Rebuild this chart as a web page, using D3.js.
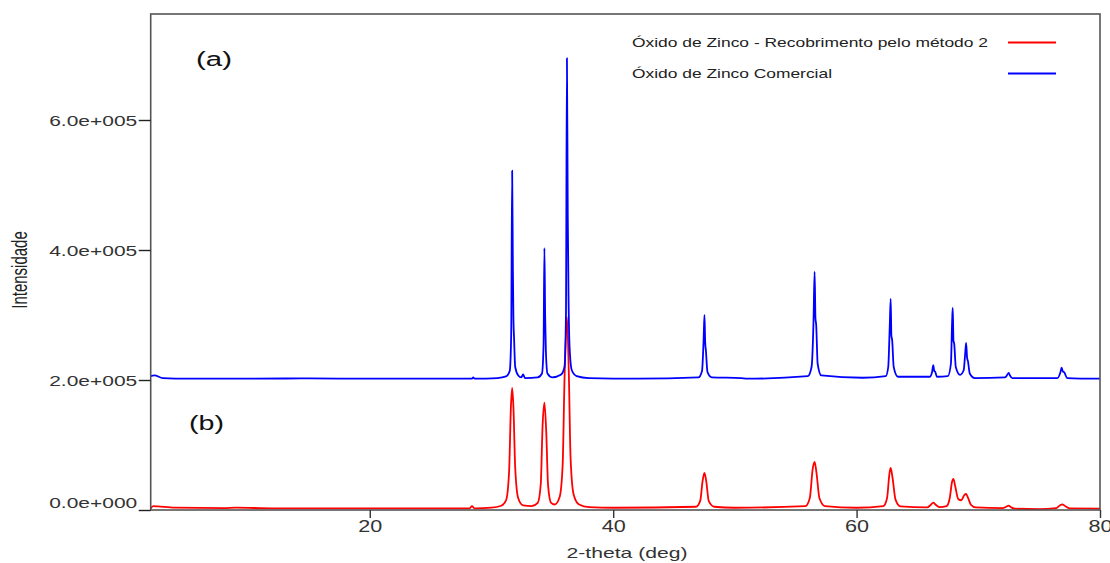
<!DOCTYPE html>
<html>
<head>
<meta charset="utf-8">
<script src="https://cdn.jsdelivr.net/npm/d3@7"></script>
<style>
  html, body { margin: 0; padding: 0; background: #fff; }
  svg { display: block; }
  text { font-family: "Liberation Sans", Arial, sans-serif; }
</style>
</head>
<body>
<svg id="chart" width="1110" height="563"></svg>
<script>
// ---------- DATA ----------
const xTicks = [20, 40, 60, 80];
const xTickLabels = ["20", "40", "60", "80"];
const yTicks = [0, 200000, 400000, 600000];
const yTickLabels = ["0.0e+000", "2.0e+005", "4.0e+005", "6.0e+005"];
const seriesNames = ["Óxido de Zinco - Recobrimento pelo método 2", "Óxido de Zinco Comercial"];
const panelLabels = ["(a)", "(b)"];
const xTitle = "2-theta (deg)";
const yTitle = "Intensidade";

// (b) red: ZnO coating, method 2  — [2theta, intensity]
const redSeries = [
  [2.0, 2500], [2.2, 6000], [2.6, 5500], [4, 3500], [8, 3000], [9, 3600], [12, 2600], [20, 2500],
  [28.2, 2600], [28.4, 6000], [28.6, 2600], [30.0, 3500], [30.8, 6500], [31.2, 15000],
  [31.45, 60000], [31.6, 160000], [31.7, 188000], [31.8, 160000], [31.95, 65000], [32.2, 18000],
  [32.6, 7000], [33.3, 6000], [33.8, 11000], [34.05, 40000], [34.2, 130000], [34.35, 165000],
  [34.5, 120000], [34.65, 38000], [34.9, 11000], [35.2, 8500], [35.6, 20000], [35.85, 70000],
  [36.0, 200000], [36.2, 297000], [36.35, 215000], [36.5, 80000], [36.75, 24000], [37.2, 8500],
  [38, 4500], [40, 3500], [46.8, 5000], [47.15, 14000], [47.35, 45000], [47.5, 57000],
  [47.65, 44000], [47.85, 14000], [48.3, 5000], [50, 3500], [55.8, 6000], [56.15, 18000],
  [56.4, 64000], [56.55, 74000], [56.7, 58000], [56.95, 18000], [57.4, 6000], [60, 3500],
  [62.2, 6000], [62.5, 18000], [62.7, 56000], [62.8, 64600], [62.95, 50000], [63.2, 16000],
  [63.6, 5500], [65.8, 4000], [66.1, 8000], [66.3, 11200], [66.5, 8000], [66.8, 4500],
  [67.4, 6000], [67.65, 18000], [67.85, 44000], [67.95, 47700], [68.1, 37000], [68.35, 17000],
  [68.6, 15000], [68.85, 23000], [69.0, 24600], [69.15, 19000], [69.4, 8000], [69.8, 4000],
  [72.0, 3000], [72.3, 5000], [72.5, 6600], [72.7, 4000], [73, 2000], [75, 1500],
  [76.4, 3000], [76.7, 7000], [76.9, 8800], [77.1, 6500], [77.5, 2500], [80, 2200]
];

// (a) blue: commercial ZnO (plotted with offset baseline ~2.0e5)
const blueSeries = [
  [2.0, 206000], [2.3, 207000], [3, 203000], [5, 202000], [10, 202000], [15, 202500], [20, 202000],
  [25, 202000], [28.4, 202000], [28.5, 204000], [28.6, 202000], [30.5, 203000], [31.2, 205500],
  [31.5, 214000], [31.62, 270000], [31.7, 522000], [31.76, 370000], [31.8, 300000],
  [31.86, 262000], [31.95, 220000], [32.2, 207000], [32.45, 204000], [32.6, 208500], [32.75, 203000],
  [33.8, 204000], [34.15, 210000], [34.28, 255000], [34.35, 403000], [34.41, 300000],
  [34.47, 245000], [34.6, 210000], [35.0, 204000], [35.7, 208000], [36.0, 220000],
  [36.12, 300000], [36.2, 695000], [36.27, 450000], [36.33, 330000], [36.42, 250000],
  [36.6, 215000], [37, 206000], [38, 203000], [42, 202000], [47.0, 204000], [47.3, 214000],
  [47.43, 262000], [47.5, 300000], [47.56, 258000], [47.62, 245000], [47.75, 212000],
  [48.1, 204000], [50.5, 203000], [51, 202000], [56.0, 206000], [56.3, 220000], [56.46, 290000],
  [56.55, 366600], [56.62, 295000], [56.68, 285000], [56.8, 225000], [57.1, 207000],
  [60.5, 203500], [62.4, 206000], [62.6, 220000], [62.72, 280000], [62.8, 324600],
  [62.86, 268000], [62.92, 262000], [63.05, 220000], [63.4, 205000], [66.0, 205000],
  [66.2, 212000], [66.3, 223000], [66.38, 214000], [66.45, 213000], [66.6, 205000],
  [67.5, 206000], [67.75, 225000], [67.85, 290000], [67.9, 310800], [67.96, 260000],
  [68.02, 256000], [68.15, 220000], [68.5, 208000], [68.8, 215000], [68.92, 240000],
  [69.0, 257000], [69.08, 234000], [69.15, 229000], [69.3, 210000], [69.7, 203000],
  [72.2, 204000], [72.45, 210000], [72.5, 211000], [72.6, 207000], [72.8, 203000],
  [76.5, 203000], [76.75, 212000], [76.85, 219000], [76.95, 213000], [77.05, 212000],
  [77.3, 203000], [80, 202000]
];

// ---------- LAYOUT ----------
const svg = d3.select("#chart");
const pLeft = 150.7, pRight = 1100, pTop = 14, pBottom = 510;

const x = d3.scaleLinear().domain([2, 80]).range([pLeft, pRight]);
const y = d3.scaleLinear().domain([0, 763077]).range([pBottom, pTop]);

svg.append("defs").append("clipPath").attr("id", "clip")
  .append("rect").attr("x", pLeft).attr("y", pTop).attr("width", pRight - pLeft).attr("height", pBottom - pTop);

// series lines
const line = d3.line().x(d => x(d[0])).y(d => y(d[1])).curve(d3.curveMonotoneX);
const plot = svg.append("g").attr("clip-path", "url(#clip)");
plot.append("path").datum(redSeries).attr("d", line)
  .attr("fill", "none").attr("stroke", "#ff0000").attr("stroke-width", 1.8).attr("stroke-linejoin", "round");
plot.append("path").datum(blueSeries).attr("d", line)
  .attr("fill", "none").attr("stroke", "#0000ff").attr("stroke-width", 1.8).attr("stroke-linejoin", "round");

// frame
svg.append("rect").attr("x", pLeft).attr("y", pTop).attr("width", pRight - pLeft).attr("height", pBottom - pTop)
  .attr("fill", "none").attr("stroke", "#555").attr("stroke-width", 1.6);

// x axis
const xAxis = d3.axisBottom(x).tickValues(xTicks).tickSize(8).tickSizeOuter(0)
  .tickFormat((d, i) => xTickLabels[i]);
const gx = svg.append("g").attr("transform", `translate(0,${pBottom})`).call(xAxis);
gx.select(".domain").remove();
gx.selectAll(".tick line").attr("stroke", "#333").attr("stroke-width", 1.4);
gx.selectAll(".tick text").attr("font-size", 16).attr("fill", "#333").attr("y", 10).attr("dy", "0.78em")
  .attr("font-family", "Liberation Sans, Arial, sans-serif")
  .attr("textLength", 24).attr("lengthAdjust", "spacingAndGlyphs");

// y axis
const yAxis = d3.axisLeft(y).tickValues(yTicks).tickSize(12).tickSizeOuter(0)
  .tickFormat((d, i) => yTickLabels[i]);
const gy = svg.append("g").attr("transform", `translate(${pLeft},0)`).call(yAxis);
gy.select(".domain").remove();
gy.selectAll(".tick line").attr("stroke", "#222").attr("stroke-width", 1.4);
gy.selectAll(".tick text").attr("font-size", 15).attr("fill", "#333").attr("x", -13.5)
  .attr("font-family", "Liberation Sans, Arial, sans-serif")
  .attr("textLength", 88).attr("lengthAdjust", "spacingAndGlyphs")
  .attr("dy", d => d === 0 ? "-0.2em" : "0.35em");

// axis titles
svg.append("text").attr("x", 627).attr("y", 558).attr("text-anchor", "middle")
  .attr("font-size", 15).attr("fill", "#333")
  .attr("textLength", 121).attr("lengthAdjust", "spacingAndGlyphs").text(xTitle);
svg.append("text").attr("transform", "translate(27,270) scale(1.5,1) rotate(-90)")
  .attr("text-anchor", "middle").attr("font-size", 15).attr("fill", "#222").text(yTitle);

// panel labels
svg.append("text").attr("x", 196).attr("y", 66).attr("font-size", 20).attr("fill", "#111")
  .attr("textLength", 36).attr("lengthAdjust", "spacingAndGlyphs").text(panelLabels[0]);
svg.append("text").attr("x", 189).attr("y", 430).attr("font-size", 20).attr("fill", "#111")
  .attr("textLength", 35).attr("lengthAdjust", "spacingAndGlyphs").text(panelLabels[1]);

// legend
const legendColors = ["#ff0000", "#0000ff"];
const legendY = [47, 78];
const legendLen = [356, 200];
seriesNames.forEach((name, i) => {
  svg.append("text").attr("x", 632).attr("y", legendY[i]).attr("font-size", 13).attr("fill", "#222")
    .attr("textLength", legendLen[i]).attr("lengthAdjust", "spacingAndGlyphs").text(name);
  svg.append("line").attr("x1", 1008).attr("x2", 1056)
    .attr("y1", legendY[i] - 4.5).attr("y2", legendY[i] - 4.5)
    .attr("stroke", legendColors[i]).attr("stroke-width", 1.8);
});
</script>
</body>
</html>
